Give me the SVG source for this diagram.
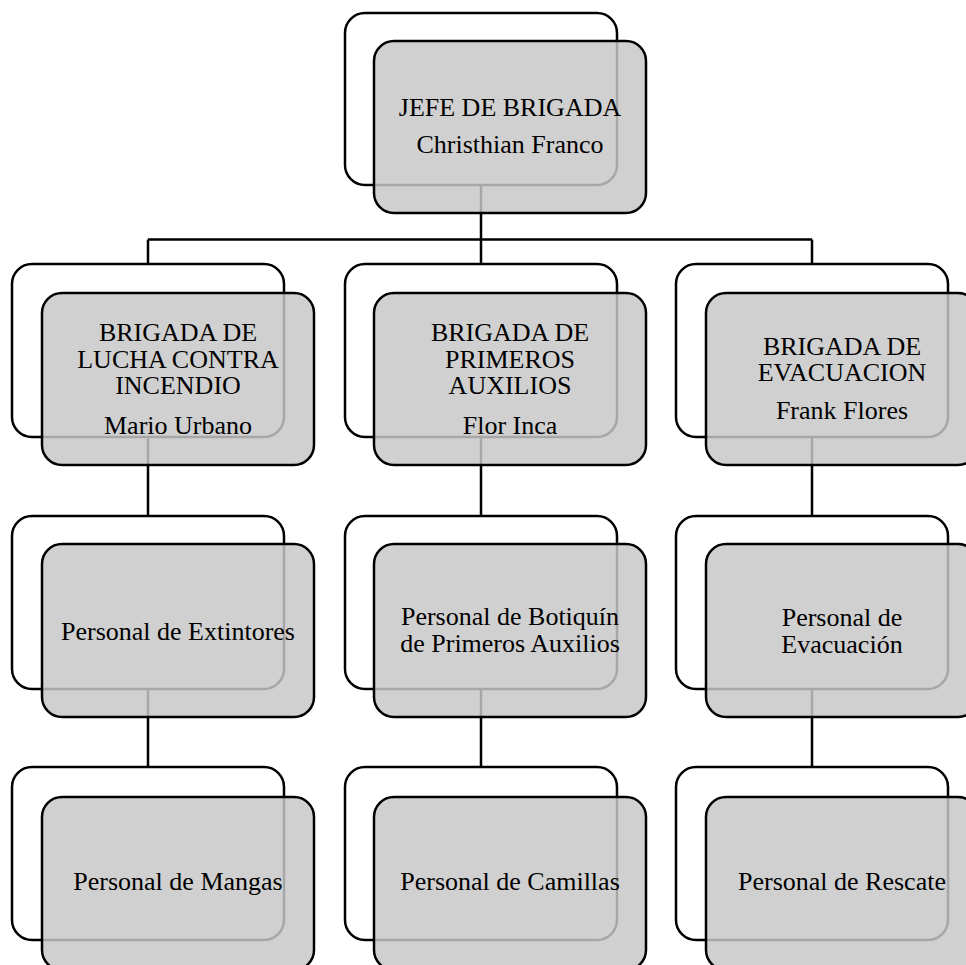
<svg xmlns="http://www.w3.org/2000/svg" width="966" height="965" viewBox="0 0 966 965">
<style>
.back{fill:#ffffff;stroke:#000;stroke-width:2.5}
.front{fill:#c7c7c7;fill-opacity:0.84;stroke:#000;stroke-width:2.5}
.conn{fill:none;stroke:#000;stroke-width:2.5}
text{font-family:"Liberation Serif","Times New Roman",serif;font-size:26px;fill:#000;text-anchor:middle}
</style>
<rect width="966" height="965" fill="#ffffff"/>
<g id="connectors">
<path class="conn" d="M481,185 V239.5 M148,239.5 H812 M148,239.5 V264 M481,239.5 V264 M812,239.5 V264"/>
<path class="conn" d="M148,437 V516 M481,437 V516 M812,437 V516"/>
<path class="conn" d="M148,689 V767 M481,689 V767 M812,689 V767"/>
</g>
<g id="jefe">
<rect class="back" x="345" y="13" width="272" height="172" rx="20"/>
<rect class="front" x="374" y="41" width="272" height="172" rx="20"/>
<text x="510" y="116">JEFE DE BRIGADA</text>
<text x="510" y="153">Christhian Franco</text>
</g>
<g id="lucha">
<rect class="back" x="12" y="264" width="272" height="173" rx="20"/>
<rect class="front" x="42" y="293" width="272" height="172" rx="20"/>
<text x="178" y="341">BRIGADA DE</text>
<text x="178" y="367.5">LUCHA CONTRA</text>
<text x="178" y="394">INCENDIO</text>
<text x="178" y="434">Mario Urbano</text>
</g>
<g id="primeros">
<rect class="back" x="345" y="264" width="272" height="173" rx="20"/>
<rect class="front" x="374" y="293" width="272" height="172" rx="20"/>
<text x="510" y="341">BRIGADA DE</text>
<text x="510" y="367.5">PRIMEROS</text>
<text x="510" y="394">AUXILIOS</text>
<text x="510" y="434">Flor Inca</text>
</g>
<g id="evacuacion">
<rect class="back" x="676" y="264" width="272" height="173" rx="20"/>
<rect class="front" x="706" y="293" width="272" height="172" rx="20"/>
<text x="842" y="354.5">BRIGADA DE</text>
<text x="842" y="381">EVACUACION</text>
<text x="842" y="419">Frank Flores</text>
</g>
<g id="extintores">
<rect class="back" x="12" y="516" width="272" height="173" rx="20"/>
<rect class="front" x="42" y="544" width="272" height="173" rx="20"/>
<text x="178" y="640">Personal de Extintores</text>
</g>
<g id="botiquin">
<rect class="back" x="345" y="516" width="272" height="173" rx="20"/>
<rect class="front" x="374" y="544" width="272" height="173" rx="20"/>
<text x="510" y="625">Personal de Botiquín</text>
<text x="510" y="652">de Primeros Auxilios</text>
</g>
<g id="pers-evacuacion">
<rect class="back" x="676" y="516" width="272" height="173" rx="20"/>
<rect class="front" x="706" y="544" width="272" height="173" rx="20"/>
<text x="842" y="626">Personal de</text>
<text x="842" y="653">Evacuación</text>
</g>
<g id="mangas">
<rect class="back" x="12" y="767" width="272" height="173" rx="20"/>
<rect class="front" x="42" y="797" width="272" height="173" rx="20"/>
<text x="178" y="890">Personal de Mangas</text>
</g>
<g id="camillas">
<rect class="back" x="345" y="767" width="272" height="173" rx="20"/>
<rect class="front" x="374" y="797" width="272" height="173" rx="20"/>
<text x="510" y="890">Personal de Camillas</text>
</g>
<g id="rescate">
<rect class="back" x="676" y="767" width="272" height="173" rx="20"/>
<rect class="front" x="706" y="797" width="272" height="173" rx="20"/>
<text x="842" y="890">Personal de Rescate</text>
</g>
</svg>
